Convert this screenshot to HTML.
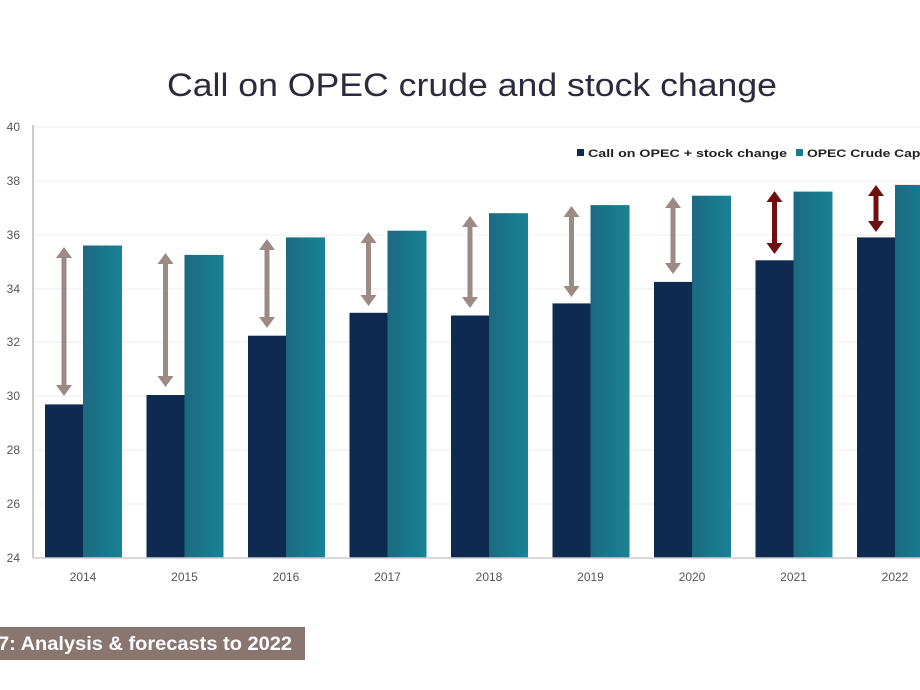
<!DOCTYPE html>
<html><head><meta charset="utf-8"><style>
body{margin:0;background:#fff;}
svg{display:block;font-family:"Liberation Sans",sans-serif;}
</style></head><body>
<svg width="920" height="690" viewBox="0 0 920 690">
<defs>
<linearGradient id="t" x1="0" x2="1"><stop offset="0" stop-color="#1b6a82"/><stop offset="1" stop-color="#1a8296"/></linearGradient>
</defs>
<text x="167" y="96" textLength="610" lengthAdjust="spacingAndGlyphs" font-size="32" fill="#2b2b3d">Call on OPEC crude and stock change</text>
<g stroke="#eeeeee" stroke-width="1">
<line x1="33" y1="127" x2="920" y2="127"/><line x1="33" y1="181" x2="920" y2="181"/>
<line x1="33" y1="235" x2="920" y2="235"/><line x1="33" y1="289" x2="920" y2="289"/>
<line x1="33" y1="342" x2="920" y2="342"/><line x1="33" y1="396" x2="920" y2="396"/>
<line x1="33" y1="450" x2="920" y2="450"/><line x1="33" y1="504" x2="920" y2="504"/>
</g>
<line x1="33" y1="125" x2="33" y2="558" stroke="#cccccc" stroke-width="2"/>
<g font-size="12" fill="#555" text-anchor="end">
<text x="20" y="131">40</text><text x="20" y="185">38</text><text x="20" y="239">36</text>
<text x="20" y="293">34</text><text x="20" y="346">32</text><text x="20" y="400">30</text>
<text x="20" y="454">28</text><text x="20" y="508">26</text><text x="20" y="562">24</text>
</g>
<g fill="#0f2a50">
<rect x="45" y="404.4" width="38" height="153.6"/>
<rect x="146.5" y="395" width="38" height="163"/>
<rect x="248" y="335.7" width="38" height="222.3"/>
<rect x="349.5" y="312.8" width="38" height="245.2"/>
<rect x="451" y="315.5" width="38" height="242.5"/>
<rect x="552.5" y="303.4" width="38" height="254.6"/>
<rect x="654" y="281.9" width="38" height="276.1"/>
<rect x="755.5" y="260.3" width="38" height="297.7"/>
<rect x="857" y="237.4" width="38" height="320.6"/>
</g>
<g fill="url(#t)">
<rect x="83" y="245.5" width="39" height="312.5"/>
<rect x="184.5" y="254.9" width="39" height="303.1"/>
<rect x="286" y="237.4" width="39" height="320.6"/>
<rect x="387.5" y="230.7" width="39" height="327.3"/>
<rect x="489" y="213.2" width="39" height="344.8"/>
<rect x="590.5" y="205.1" width="39" height="352.9"/>
<rect x="692" y="195.7" width="39" height="362.3"/>
<rect x="793.5" y="191.6" width="39" height="366.4"/>
<rect x="895" y="184.9" width="39" height="373.1"/>
</g>
<line x1="33" y1="558" x2="920" y2="558" stroke="#cccccc" stroke-width="1.5"/>
<g stroke="#9c8a85" stroke-width="5" fill="#9c8a85">
<line x1="64" y1="256" x2="64" y2="387"/><path d="M56,258L64,247L72,258zM56,385L64,396L72,385z" stroke="none"/>
<line x1="165.5" y1="262" x2="165.5" y2="378"/><path d="M157.5,264L165.5,253L173.5,264zM157.5,376L165.5,387L173.5,376z" stroke="none"/>
<line x1="267" y1="248" x2="267" y2="319"/><path d="M259,250L267,239L275,250zM259,317L267,328L275,317z" stroke="none"/>
<line x1="368.5" y1="241" x2="368.5" y2="297"/><path d="M360.5,243L368.5,232L376.5,243zM360.5,295L368.5,306L376.5,295z" stroke="none"/>
<line x1="470" y1="225" x2="470" y2="299"/><path d="M462,227L470,216L478,227zM462,297L470,308L478,297z" stroke="none"/>
<line x1="571.5" y1="215" x2="571.5" y2="288"/><path d="M563.5,217L571.5,206L579.5,217zM563.5,286L571.5,297L579.5,286z" stroke="none"/>
<line x1="673" y1="206" x2="673" y2="265"/><path d="M665,208L673,197L681,208zM665,263L673,274L681,263z" stroke="none"/>
</g>
<g stroke="#6e1010" stroke-width="5" fill="#6e1010">
<line x1="774.5" y1="200" x2="774.5" y2="245"/><path d="M766.5,202L774.5,191L782.5,202zM766.5,243L774.5,254L782.5,243z" stroke="none"/>
<line x1="876" y1="194" x2="876" y2="223"/><path d="M868,196L876,185L884,196zM868,221L876,232L884,221z" stroke="none"/>
</g>
<g font-size="12" fill="#555" text-anchor="middle">
<text x="83" y="581">2014</text><text x="184.5" y="581">2015</text><text x="286" y="581">2016</text>
<text x="387.5" y="581">2017</text><text x="489" y="581">2018</text><text x="590.5" y="581">2019</text>
<text x="692" y="581">2020</text><text x="793.5" y="581">2021</text><text x="895" y="581">2022</text>
</g>
<rect x="577" y="149" width="7" height="7" fill="#0f2a50"/>
<text x="588" y="157" font-size="11" font-weight="bold" fill="#222" textLength="199" lengthAdjust="spacingAndGlyphs">Call on OPEC + stock change</text>
<rect x="796" y="149" width="7" height="7" fill="#1a7a90"/>
<text x="807" y="157" font-size="11" font-weight="bold" fill="#222" textLength="145" lengthAdjust="spacingAndGlyphs">OPEC Crude Capacity</text>
<rect x="0" y="627" width="305" height="33" fill="#8a7671"/>
<text x="-2" y="650" font-size="19" font-weight="bold" fill="#fff" textLength="294" lengthAdjust="spacingAndGlyphs">7:  Analysis &amp; forecasts to 2022</text>
</svg>
</body></html>
